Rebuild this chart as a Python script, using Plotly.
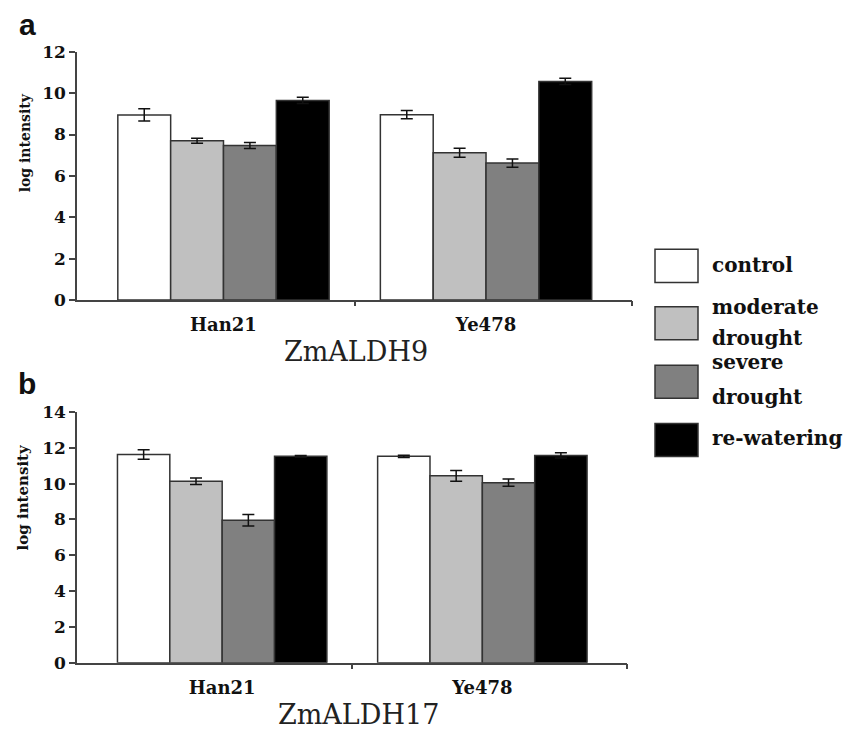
import plotly.graph_objects as go

W, H = 859, 740

genotypes = ["Han21", "Ye478"]
treatments = ["control", "moderate drought", "severe drought", "re-watering"]
legend_lines = [["control"], ["moderate", "drought"], ["severe", "drought"], ["re-watering"]]
colors = ["#ffffff", "#c0c0c0", "#808080", "#000000"]

# ZmALDH9 (panel a)
aldh9_control = [8.95, 8.96]
aldh9_moderate = [7.70, 7.12]
aldh9_severe = [7.47, 6.62]
aldh9_rewater = [9.65, 10.57]
aldh9_control_err = [0.30, 0.20]
aldh9_moderate_err = [0.12, 0.22]
aldh9_severe_err = [0.14, 0.20]
aldh9_rewater_err = [0.15, 0.15]

# ZmALDH17 (panel b)
aldh17_control = [11.62, 11.52]
aldh17_moderate = [10.13, 10.43]
aldh17_severe = [7.95, 10.05]
aldh17_rewater = [11.52, 11.57]
aldh17_control_err = [0.27, 0.06]
aldh17_moderate_err = [0.18, 0.30]
aldh17_severe_err = [0.32, 0.20]
aldh17_rewater_err = [0.05, 0.15]

y_ticks_a = [0, 2, 4, 6, 8, 10, 12]
y_ticks_b = [0, 2, 4, 6, 8, 10, 12, 14]

panels = [
    dict(means=[aldh9_control, aldh9_moderate, aldh9_severe, aldh9_rewater],
         errs=[aldh9_control_err, aldh9_moderate_err, aldh9_severe_err, aldh9_rewater_err],
         xa="x", ya="y"),
    dict(means=[aldh17_control, aldh17_moderate, aldh17_severe, aldh17_rewater],
         errs=[aldh17_control_err, aldh17_moderate_err, aldh17_severe_err, aldh17_rewater_err],
         xa="x2", ya="y2"),
]

def px(x):
    return x / W

def py(y):
    return 1 - y / H

fig = go.Figure()
for p in panels:
    for name, m, e, c in zip(treatments, p["means"], p["errs"], colors):
        fig.add_trace(go.Bar(
            x=genotypes, y=m, name=name, xaxis=p["xa"], yaxis=p["ya"],
            marker=dict(color=c, line=dict(color="#333333", width=1.5)),
            error_y=dict(type="data", array=e, color="#111111", thickness=1.5, width=6),
            showlegend=False,
        ))
# invisible traces to host tick-only overlay axes
fig.add_trace(go.Scatter(x=[], y=[], xaxis="x3", yaxis="y", showlegend=False))
fig.add_trace(go.Scatter(x=[], y=[], xaxis="x4", yaxis="y2", showlegend=False))

serif = "DejaVu Serif"
axcol = "#444444"
tickfont = dict(family=serif, size=17, color="#111111", weight="bold")
catfont = dict(family=serif, size=18, color="#111111", weight="bold")

dom_a_x = [px(77), px(632)]
dom_a_y = [py(298), py(43)]
dom_b_x = [px(77), px(627)]
dom_b_y = [py(671), py(413)]
xr = [-0.558, 1.556]

def cat_axis(dom, anchor):
    return dict(domain=dom, anchor=anchor, type="category", range=xr, showline=True,
                linecolor=axcol, linewidth=1.5, ticks="", showgrid=False, zeroline=False,
                tickfont=catfont, ticklabelstandoff=8, fixedrange=True)

def tick_axis(dom, anchor, over):
    return dict(domain=dom, anchor=anchor, overlaying=over, type="linear", range=[0, 2],
                tickvals=[1, 2], ticks="outside", ticklen=5, tickwidth=1.5, tickcolor=axcol,
                showticklabels=False, showline=False, showgrid=False, zeroline=False, side="bottom")

def val_axis(dom, anchor, rng, tv):
    return dict(domain=dom, anchor=anchor, range=rng, tickvals=tv, ticks="outside", ticklen=6,
                tickwidth=1.5, tickcolor=axcol, showline=True, linecolor=axcol, linewidth=1.5,
                showgrid=False, zeroline=False, tickfont=tickfont)

shapes = []
annotations = []

# Legend drawn as boxes + labels
box_tops = [246, 305, 365, 425]
for (top, c, lines) in zip(box_tops, colors, legend_lines):
    shapes.append(dict(type="rect", xref="paper", yref="paper",
                       x0=px(655), x1=px(698), y0=py(top + 34), y1=py(top),
                       fillcolor=c, line=dict(color="#333333", width=1.5)))
label_pos = [[262], [305, 337], [362, 398], [440]]
for lines, ys in zip(legend_lines, label_pos):
    for t, yy in zip(lines, ys):
        annotations.append(dict(text=t, xref="paper", yref="paper", x=px(710), y=py(yy),
                                xanchor="left", yanchor="middle", showarrow=False,
                                font=dict(family=serif, size=20, color="#111111", weight="bold")))

# gene titles
annotations.append(dict(text="ZmALDH9", xref="paper", yref="paper", x=px(356), y=py(351),
                        xanchor="center", yanchor="middle", showarrow=False,
                        font=dict(family=serif, size=27, color="#222222")))
annotations.append(dict(text="ZmALDH17", xref="paper", yref="paper", x=px(358), y=py(724),
                        xanchor="center", yanchor="middle", showarrow=False,
                        font=dict(family=serif, size=27, color="#222222")))
# y titles
annotations.append(dict(text="log intensity", xref="paper", yref="paper", x=px(25), y=py(137),
                        xanchor="center", yanchor="middle", showarrow=False, textangle=-90,
                        font=dict(family=serif, size=14, color="#111111", weight="bold")))
annotations.append(dict(text="log intensity", xref="paper", yref="paper", x=px(23), y=py(501),
                        xanchor="center", yanchor="middle", showarrow=False, textangle=-90,
                        font=dict(family=serif, size=15, color="#111111", weight="bold")))
# panel letters
annotations.append(dict(text="a", xref="paper", yref="paper", x=px(27), y=py(15),
                        xanchor="center", yanchor="middle", showarrow=False,
                        font=dict(family="Liberation Sans", size=30, color="#111111", weight="bold")))
annotations.append(dict(text="b", xref="paper", yref="paper", x=px(27), y=py(384),
                        xanchor="center", yanchor="middle", showarrow=False,
                        font=dict(family="Liberation Sans", size=30, color="#111111", weight="bold")))

fig.update_layout(
    width=W, height=H, margin=dict(l=0, r=0, t=0, b=0),
    paper_bgcolor="white", plot_bgcolor="white",
    barmode="group", bargap=0.195, bargroupgap=0,
    xaxis=cat_axis(dom_a_x, "y"),
    yaxis=val_axis(dom_a_y, "x", [0, 12], y_ticks_a),
    xaxis2=cat_axis(dom_b_x, "y2"),
    yaxis2=val_axis(dom_b_y, "x2", [0, 14], y_ticks_b),
    xaxis3=tick_axis(dom_a_x, "y", "x"),
    xaxis4=tick_axis(dom_b_x, "y2", "x2"),
    shapes=shapes, annotations=annotations, showlegend=False,
)

fig.write_html("out.html", config={"displayModeBar": False},
               post_script="document.body.style.margin='0';document.body.style.overflow='hidden';")
